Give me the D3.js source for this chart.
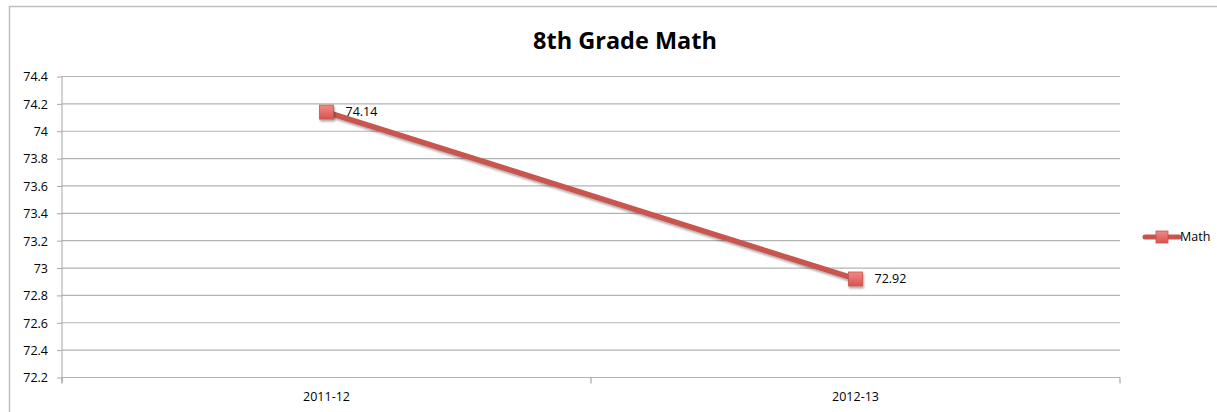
<!DOCTYPE html>
<html>
<head>
<meta charset="utf-8">
<script src="https://cdn.jsdelivr.net/npm/d3@7"></script>
<style>
  body { margin: 0; background: #fff; }
  text { font-family: "Open Sans", "Liberation Sans", Arial, sans-serif; fill: #000; }
</style>
</head>
<body>
<div id="chart"></div>
<script>
// chart data
var categories = ["2011-12", "2012-13"];
var mathValues = [74.14, 72.92];
var yTicks = [72.2, 72.4, 72.6, 72.8, 73, 73.2, 73.4, 73.6, 73.8, 74, 74.2, 74.4];
var seriesName = "Math";
var title = "8th Grade Math";

var W = 1217, H = 412;
var margin = {top: 76.5, left: 62, right: 97, bottom: 34.5};
var width = W - margin.left - margin.right,
    height = H - margin.top - margin.bottom;

var lineColor = "#c9544f";

var svg = d3.select("#chart").append("svg")
    .attr("width", W)
    .attr("height", H);

// outer chart border
svg.append("rect")
    .attr("x", 9.5).attr("y", 6.5)
    .attr("width", W).attr("height", H)
    .attr("fill", "none")
    .attr("stroke", "#bfbfbf")
    .attr("stroke-width", 1.5);

var defs = svg.append("defs");
var grad = defs.append("linearGradient")
    .attr("id", "mk").attr("x1", 0).attr("y1", 0).attr("x2", 0).attr("y2", 1);
grad.append("stop").attr("offset", "0%").attr("stop-color", "#f08a86");
grad.append("stop").attr("offset", "100%").attr("stop-color", "#d9534f");
var shadow = defs.append("filter").attr("id", "sh")
    .attr("x", "-50%").attr("y", "-50%").attr("width", "200%").attr("height", "200%");
shadow.append("feDropShadow")
    .attr("dx", 1).attr("dy", 2).attr("stdDeviation", 1.2)
    .attr("flood-color", "#000").attr("flood-opacity", 0.35);

var g = svg.append("g")
    .attr("transform", "translate(" + margin.left + "," + margin.top + ")");

var x = d3.scaleBand().domain(categories).range([0, width]);
var y = d3.scaleLinear().domain([72.2, 74.4]).range([height, 0]);

// gridlines
g.append("g").selectAll("line")
    .data(yTicks)
    .enter().append("line")
    .attr("x1", 0).attr("x2", width)
    .attr("y1", function(d) { return y(d); })
    .attr("y2", function(d) { return y(d); })
    .attr("stroke", "#b3b3b3")
    .attr("stroke-width", 1.2);

// y axis
var yAxis = g.append("g")
    .call(d3.axisLeft(y).tickValues(yTicks).tickSize(5).tickPadding(9)
        .tickFormat(function(d) { return String(+d.toFixed(1)); }));
yAxis.select(".domain").attr("stroke", "#a6a6a6").attr("d", "M0,0V" + (height + 5));
yAxis.selectAll("line").attr("stroke", "#a6a6a6");
yAxis.selectAll("text").style("font-size", "12.5px").attr("dy", "0.35em");

// x axis
var xAxis = g.append("g")
    .attr("transform", "translate(0," + height + ")")
    .call(d3.axisBottom(x).tickSize(0).tickPadding(15));
xAxis.select(".domain").remove();
xAxis.selectAll("text").style("font-size", "12.5px");
g.append("g").selectAll("line")
    .data([0, 1, 2])
    .enter().append("line")
    .attr("x1", function(d) { return d * x.step(); })
    .attr("x2", function(d) { return d * x.step(); })
    .attr("y1", height).attr("y2", height + 6)
    .attr("stroke", "#a6a6a6")
    .attr("stroke-width", 1.2);

// series line
var pts = categories.map(function(c, i) { return {cat: c, v: mathValues[i]}; });
g.append("path")
    .datum(pts)
    .attr("fill", "none")
    .attr("stroke", lineColor)
    .attr("stroke-width", 5.5)
    .attr("filter", "url(#sh)")
    .attr("d", d3.line()
        .x(function(d) { return x(d.cat) + x.bandwidth() / 2; })
        .y(function(d) { return y(d.v); }));

// markers
g.selectAll(".mk")
    .data(pts)
    .enter().append("rect")
    .attr("class", "mk")
    .attr("x", function(d) { return x(d.cat) + x.bandwidth() / 2 - 7; })
    .attr("y", function(d) { return y(d.v) - 7; })
    .attr("width", 14).attr("height", 14)
    .attr("fill", "url(#mk)")
    .attr("stroke", "#c9544f")
    .attr("stroke-width", 0.8)
    .attr("filter", "url(#sh)");

// data labels
g.selectAll(".lbl")
    .data(pts)
    .enter().append("text")
    .attr("x", function(d) { return x(d.cat) + x.bandwidth() / 2 + 19; })
    .attr("y", function(d) { return y(d.v); })
    .attr("dy", "0.35em")
    .style("font-size", "12.5px")
    .text(function(d) { return d.v.toFixed(2); });

// title
svg.append("text")
    .attr("x", 625).attr("y", 49)
    .attr("text-anchor", "middle")
    .style("font-size", "23.5px")
    .style("font-weight", "bold")
    .text(title);

// legend
var leg = svg.append("g").attr("transform", "translate(1145,237)");
leg.append("line")
    .attr("x1", 0).attr("x2", 34).attr("y1", 0).attr("y2", 0)
    .attr("stroke", lineColor).attr("stroke-width", 5)
    .attr("stroke-linecap", "round");
leg.append("rect")
    .attr("x", 11).attr("y", -6).attr("width", 12).attr("height", 12)
    .attr("fill", "url(#mk)").attr("stroke", lineColor).attr("stroke-width", 0.8);
leg.append("text")
    .attr("x", 35).attr("y", 0).attr("dy", "0.35em")
    .style("font-size", "12.5px")
    .text(seriesName);
</script>
</body>
</html>
